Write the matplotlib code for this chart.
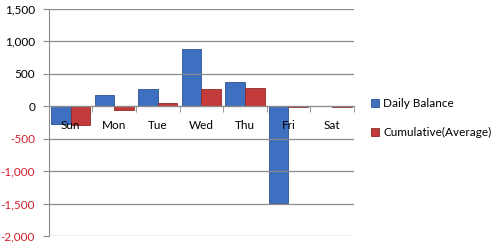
import matplotlib
matplotlib.use("Agg")
import matplotlib.pyplot as plt
import numpy as np
from matplotlib.ticker import FuncFormatter

days = ["Sun", "Mon", "Tue", "Wed", "Thu", "Fri", "Sat"]
daily_balance = [-280, 170, 260, 890, 370, -1490, 10]
cumulative_avg = [-290, -50, 45, 260, 280, -10, -10]
y_ticks = [-2000, -1500, -1000, -500, 0, 500, 1000, 1500]

plt.rcParams['font.family'] = ['Lato', 'DejaVu Sans']

fig = plt.figure(figsize=(4.99, 2.49), dpi=100)
ax = fig.add_axes([0.098, 0.052, 0.611, 0.912])

x = np.arange(len(days))
w = 0.45
blue = "#3f6fc0"
red = "#c43b3b"
b1 = ax.bar(x - w / 2, daily_balance, w, color=blue, edgecolor="#2c5290",
            linewidth=0.6, label="Daily Balance", zorder=2)
b2 = ax.bar(x + w / 2, cumulative_avg, w, color=red, edgecolor="#8e2a2a",
            linewidth=0.6, label="Cumulative(Average)", zorder=2)

ax.set_xlim(-0.5, len(days) - 0.5)
ax.set_ylim(-2000, 1500)
ax.set_yticks(y_ticks)
ax.yaxis.set_major_formatter(FuncFormatter(lambda v, p: f"{int(v):,}"))
ax.grid(axis="y", color="#8c8c8c", linewidth=0.9, zorder=0)

for s in ["top", "right"]:
    ax.spines[s].set_visible(False)
ax.spines["left"].set_color("#8c8c8c")
ax.spines["bottom"].set_position(("data", 0))
ax.spines["bottom"].set_color("#8c8c8c")
ax.spines["bottom"].set_zorder(1)

ax.set_xticks(x)
ax.set_xticklabels(days)
ax.set_xticks(np.arange(len(days) + 1) - 0.5, minor=True)
ax.tick_params(axis="x", which="major", length=0, pad=10, labelsize=8.5)
ax.tick_params(axis="x", which="minor", length=4, color="#8c8c8c")
ax.tick_params(axis="y", length=4, color="#8c8c8c", labelsize=8.5, pad=6)
ax.set_axisbelow(False)
for lab in ax.get_xticklabels():
    lab.set_zorder(5)

fig.canvas.draw()
for lab, v in zip(ax.get_yticklabels(), ax.get_yticks()):
    lab.set_color("#d11f2e" if v < 0 else "black")

ax.legend(loc="center left", bbox_to_anchor=(1.02, 0.52), frameon=False,
          fontsize=8.5, handlelength=0.7, handleheight=0.7, handletextpad=0.4,
          labelspacing=1.5)

fig.savefig("out.png", dpi=100)
